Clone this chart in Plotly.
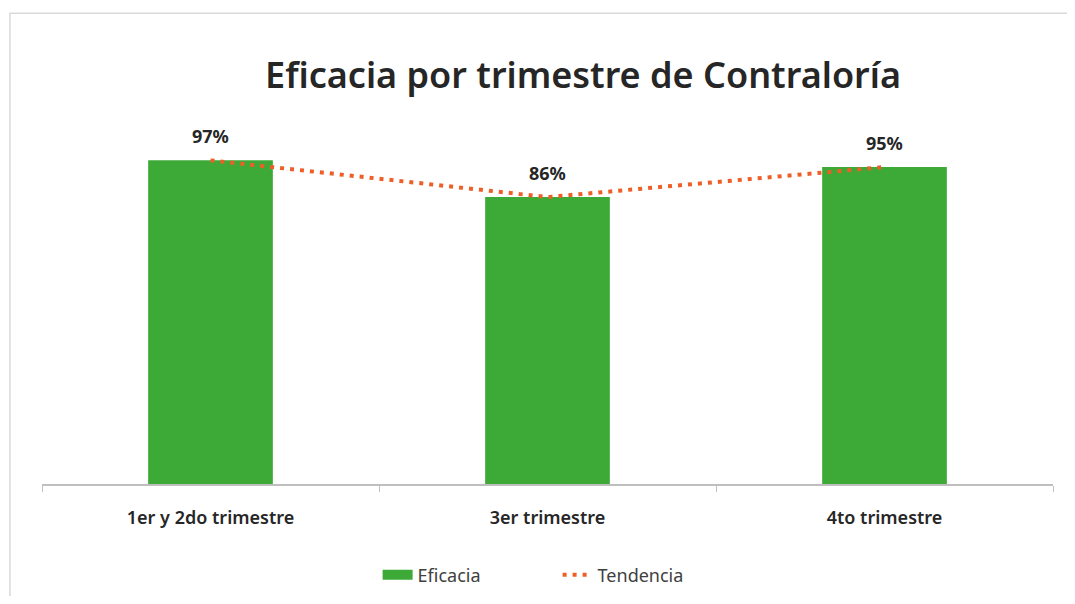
import plotly.graph_objects as go

categorias = ["1er y 2do trimestre", "3er trimestre", "4to trimestre"]
eficacia = [0.97, 0.86, 0.95]
etiquetas = ["97%", "86%", "95%"]

verde = "#3DAA37"
naranja = "#EE5F28"

fig = go.Figure()

fig.add_trace(go.Bar(
    x=categorias, y=eficacia, name="Eficacia",
    marker=dict(color=verde, line=dict(width=0)),
    width=0.37, showlegend=False,
))

fig.add_trace(go.Scatter(
    x=categorias, y=eficacia, name="Tendencia",
    mode="lines", showlegend=False,
    line=dict(color=naranja, width=4, dash="4px,6px"),
))

# entradas de leyenda al estilo Excel
fig.add_trace(go.Scatter(x=[None], y=[None], mode="lines", name="Eficacia",
                         line=dict(color=verde, width=11)))
fig.add_trace(go.Scatter(x=[None], y=[None], mode="lines", name="Tendencia",
                         line=dict(color=naranja, width=4, dash="4px,6px")))

for c, v, t in zip(categorias, eficacia, etiquetas):
    fig.add_annotation(x=c, y=v, text="<b>" + t + "</b>", showarrow=False,
                       yanchor="bottom", yshift=10,
                       font=dict(size=18, color="#262626"))

fig.update_layout(
    width=1059, height=588,
    margin=dict(l=34, r=14, t=109, b=112, autoexpand=False),
    paper_bgcolor="white", plot_bgcolor="white",
    title=dict(text="Eficacia por trimestre de Contraloría",
               x=0.543, xanchor="center", y=0.886, yanchor="middle",
               font=dict(size=36, color="#262626", family="Noto Sans", weight=600)),
    font=dict(family="Noto Sans", color="#404040"),
    showlegend=True,
    legend=dict(orientation="h", x=0.51, xanchor="center",
                yref="container", y=0.0357, yanchor="middle",
                entrywidth=135, entrywidthmode="pixels",
                font=dict(size=18, color="#404040"), traceorder="normal"),
    shapes=[dict(type="rect", xref="paper", yref="paper",
                 x0=-0.0317, x1=1.1, y0=-0.5, y1=1.283,
                 line=dict(color="#d9d9d9", width=1.5), layer="below")],
)

fig.update_xaxes(
    showline=True, linecolor="#bfbfbf", linewidth=1.5,
    ticks="outside", tickson="boundaries", ticklen=6, tickcolor="#bfbfbf",
    tickfont=dict(size=18, color="#262626", weight=600),
    ticklabelstandoff=17, automargin=False,
)
fig.update_yaxes(range=[0, 1.1], visible=False, showgrid=False)

fig.write_html("out.html")
